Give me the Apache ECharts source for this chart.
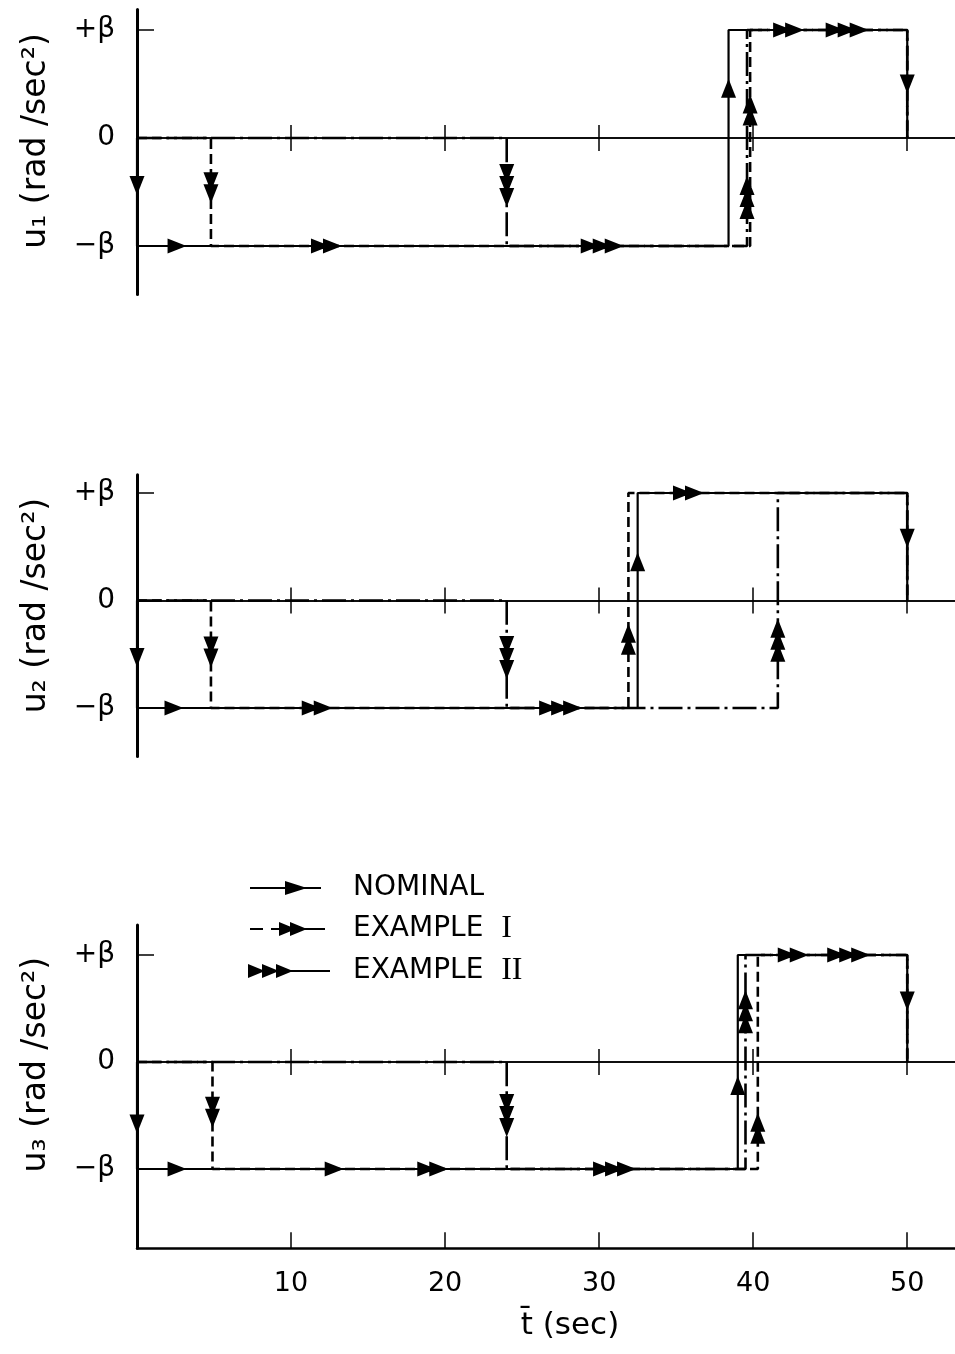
<!DOCTYPE html>
<html>
<head>
<meta charset="utf-8">
<script src="https://cdn.jsdelivr.net/npm/echarts@6/dist/echarts.min.js"></script>
<style>html,body{margin:0;padding:0;background:#fff}#c{width:955px;height:1354px}</style>
</head>
<body>
<div id="c"></div>
<script>
// ---------------- DATA ----------------
const timeTicks = [10, 20, 30, 40, 50];           // t (sec)
const levelTicks = [-1, 0, 1];                     // in units of beta
const levelLabels = { '-1': '\u2212\u03b2', '0': '0', '1': '+\u03b2' };
const seriesNames = ['NOMINAL', 'EXAMPLE I', 'EXAMPLE II'];
const panelTitles = ['u\u2081 (rad /sec\u00b2)', 'u\u2082 (rad /sec\u00b2)', 'u\u2083 (rad /sec\u00b2)'];

// control histories: [t (sec), u / beta]
const u1Nominal   = [[0,0],[0,-1],[38.4,-1],[38.4,1],[50,1],[50,0]];
const u1ExampleI  = [[0,0],[4.8,0],[4.8,-1],[39.8,-1],[39.8,1],[50,1],[50,0]];
const u1ExampleII = [[0,0],[24,0],[24,-1],[39.6,-1],[39.6,1],[50,1],[50,0]];

const u2Nominal   = [[0,0],[0,-1],[32.5,-1],[32.5,1],[50,1],[50,0]];
const u2ExampleI  = [[0,0],[4.8,0],[4.8,-1],[31.9,-1],[31.9,1],[50,1],[50,0]];
const u2ExampleII = [[0,0],[24,0],[24,-1],[41.6,-1],[41.6,1],[50,1],[50,0]];

const u3Nominal   = [[0,0],[0,-1],[39.0,-1],[39.0,1],[50,1],[50,0]];
const u3ExampleI  = [[0,0],[4.9,0],[4.9,-1],[40.3,-1],[40.3,1],[50,1],[50,0]];
const u3ExampleII = [[0,0],[24,0],[24,-1],[39.5,-1],[39.5,1],[50,1],[50,0]];

// direction arrows along each history: [t, u / beta, direction]
const u1ArrowsNominal = [[0,-0.44,'down'],[2.6,-1,'right'],[38.4,0.46,'up'],[50,0.5,'down']];
const u1ArrowsI       = [[4.8,-0.46,'down'],[12.3,-1,'right'],[39.8,0.26,'up'],[42.3,1,'right']];
const u1ArrowsII      = [[24,-0.44,'down'],[30.2,-1,'right'],[39.6,-0.55,'up'],[46.1,1,'right']];

const u2ArrowsNominal = [[0,-0.53,'down'],[2.4,-1,'right'],[32.5,0.36,'up'],[50,0.58,'down']];
const u2ArrowsI       = [[4.8,-0.48,'down'],[11.7,-1,'right'],[31.9,-0.36,'up'],[35.8,1,'right']];
const u2ArrowsII      = [[24,-0.53,'down'],[27.5,-1,'right'],[41.6,-0.37,'up']];

const u3ArrowsNominal = [[0,-0.58,'down'],[2.6,-1,'right'],[12.8,-1,'right'],[39.0,-0.22,'up'],[50,0.57,'down']];
const u3ArrowsI       = [[4.9,-0.47,'down'],[19.2,-1,'right'],[40.3,-0.62,'up'],[42.6,1,'right']];
const u3ArrowsII      = [[24,-0.5,'down'],[31,-1,'right'],[39.5,0.47,'up'],[46.2,1,'right']];

// ---------------- LAYOUT / STYLE ----------------
const FONT = 'DejaVu Sans';
const INK = '#000';
const GRID_LEFT = 137, GRID_WIDTH = 818, T_MAX = 53.1;
const layout = [
  { zero: 138,   beta: 108,   ymax: 1.19, ymin: -1.45, namePad: 22 },
  { zero: 600.5, beta: 107.5, ymax: 1.17, ymin: -1.45, namePad: 20 },
  { zero: 1062,  beta: 107,   ymax: 1.28, ymin: -1.74, namePad: 44 }
];
const panels = [
  { lines: [u1Nominal, u1ExampleI, u1ExampleII], arrows: [u1ArrowsNominal, u1ArrowsI, u1ArrowsII] },
  { lines: [u2Nominal, u2ExampleI, u2ExampleII], arrows: [u2ArrowsNominal, u2ArrowsI, u2ArrowsII] },
  { lines: [u3Nominal, u3ExampleI, u3ExampleII], arrows: [u3ArrowsNominal, u3ArrowsI, u3ArrowsII] }
];
const lineStyles = [
  { type: 'solid', width: 2.2 },
  { type: [10, 5], width: 2.6 },
  { type: [24, 5, 3, 5], width: 2.6 }
];
const ARROW = [
  null,
  { path: 'path://M0,0L7.5,19L-7.5,19Z', size: [15, 19] },
  { path: 'path://M0,0L7.5,19L-7.5,19ZM0,12L7.5,31L-7.5,31Z', size: [15, 31] },
  { path: 'path://M0,0L7.5,19L-7.5,19ZM0,12L7.5,31L-7.5,31ZM0,24L7.5,43L-7.5,43Z', size: [15, 43] }
];
const ROT = { up: 0, down: 180, right: -90 };
const legendIcons = [
  'path://M0,7L0.01,7L0,7.01ZM2,6L73,6L73,8L2,8ZM37,0L59,7L37,14ZM99.99,7L100,7L99.99,7.01Z',
  'path://M0,7L0.01,7L0,7.01ZM2,6L15,6L15,8L2,8ZM23,6L31,6L31,8L23,8ZM31,0L48,7L31,14ZM42,0L59,7L42,14ZM50,6L77,6L77,8L50,8ZM99.99,7L100,7L99.99,7.01Z',
  'path://M0,6L82,6L82,8L0,8ZM0,0L17,7L0,14ZM14,0L31,7L14,14ZM28,0L45,7L28,14ZM99.99,7L100,7L99.99,7.01Z'
];

const grids = [], xAxes = [], yAxes = [], series = [];
layout.forEach((L, p) => {
  grids.push({
    left: GRID_LEFT, width: GRID_WIDTH,
    top: L.zero - L.ymax * L.beta,
    height: (L.ymax - L.ymin) * L.beta,
    containLabel: false, outerBoundsMode: 'none'
  });
  const mainY = yAxes.length;
  yAxes.push({
    type: 'value', gridIndex: p, min: L.ymin, max: L.ymax, position: 'left',
    name: panelTitles[p], nameLocation: 'middle', nameRotate: 90, nameGap: 84,
    nameTextStyle: { fontFamily: FONT, fontSize: 33, color: INK, padding: [0, 0, 0, L.namePad] },
    axisLine: { show: true, onZero: false, lineStyle: { color: INK, width: 3 } },
    axisTick: { show: true, inside: true, length: 17, customValues: levelTicks, lineStyle: { color: INK, width: 1.5 } },
    axisLabel: {
      show: true, customValues: levelTicks, margin: 22, fontFamily: FONT, fontSize: 28, color: INK,
      formatter: v => levelLabels[String(Math.round(v))]
    },
    splitLine: { show: false }
  });
  const helperY = yAxes.length;
  yAxes.push({
    type: 'value', gridIndex: p, min: L.ymin, max: L.ymax, position: 'right', show: false,
    axisLine: { onZero: false }, splitLine: { show: false }
  });
  const firstX = xAxes.length;
  // zero line, ticks downward
  xAxes.push({
    type: 'value', gridIndex: p, min: 0, max: T_MAX, position: 'bottom',
    axisLine: { onZero: true, onZeroAxisIndex: mainY, lineStyle: { color: INK, width: 1.5 } },
    axisTick: { show: true, inside: false, length: 13, customValues: timeTicks, lineStyle: { color: INK, width: 1.5 } },
    axisLabel: { show: false }, splitLine: { show: false }
  });
  // zero line, ticks upward
  xAxes.push({
    type: 'value', gridIndex: p, min: 0, max: T_MAX, position: 'top',
    axisLine: { onZero: true, onZeroAxisIndex: helperY, lineStyle: { color: INK, width: 1.5 } },
    axisTick: { show: true, inside: false, length: 13, customValues: timeTicks, lineStyle: { color: INK, width: 1.5 } },
    axisLabel: { show: false }, splitLine: { show: false }
  });
  if (p === 2) {
    xAxes.push({
      type: 'value', gridIndex: p, min: 0, max: T_MAX, position: 'bottom',
      name: 't\u0304 (sec)', nameLocation: 'middle', nameGap: 62,
      nameTextStyle: { fontFamily: FONT, fontSize: 31, color: INK, padding: [0, 0, 0, 48] },
      axisLine: { onZero: false, lineStyle: { color: INK, width: 2.5 } },
      axisTick: { show: true, inside: true, length: 16, customValues: timeTicks, lineStyle: { color: INK, width: 1.5 } },
      axisLabel: { show: true, customValues: timeTicks, margin: 22, fontFamily: FONT, fontSize: 27, color: INK },
      splitLine: { show: false }
    });
  }
  const P = panels[p];
  P.lines.forEach((d, k) => {
    series.push({
      name: seriesNames[k], type: 'line', xAxisIndex: firstX, yAxisIndex: mainY,
      data: d, symbol: 'none', silent: true, z: 3,
      color: INK, itemStyle: { color: INK },
      lineStyle: Object.assign({ color: INK, cap: 'butt' }, lineStyles[k])
    });
  });
  P.arrows.forEach((arr, k) => {
    const A = ARROW[k + 1];
    series.push({
      name: seriesNames[k] + ' arrows ' + (p + 1), type: 'scatter', xAxisIndex: firstX, yAxisIndex: mainY,
      silent: true, z: 4, itemStyle: { color: INK, opacity: 1 },
      data: arr.map(a => ({ value: [a[0], a[1]], symbol: A.path, symbolSize: A.size, symbolRotate: ROT[a[2]] }))
    });
  });
});

const chart = echarts.init(document.getElementById('c'), null, { renderer: 'canvas' });
chart.setOption({
  animation: false,
  backgroundColor: '#fff',
  grid: grids, xAxis: xAxes, yAxis: yAxes, series: series,
  legend: {
    show: true, orient: 'vertical', left: 243, top: 868,
    itemWidth: 100, itemHeight: 14, itemGap: 10,
    selectedMode: false,
    data: seriesNames.map((n, k) => ({ name: n, icon: legendIcons[k] })),
    itemStyle: { color: INK, borderWidth: 0, opacity: 1 },
    formatter: n => n === 'NOMINAL' ? 'NOMINAL' : (n === 'EXAMPLE I' ? 'EXAMPLE  {r|I}' : 'EXAMPLE  {r|II}'),
    textStyle: {
      fontFamily: FONT, fontSize: 28, color: INK, lineHeight: 30,
      rich: { r: { fontFamily: 'Liberation Serif', fontSize: 32, color: INK, lineHeight: 30 } }
    }
  }
});
</script>
</body>
</html>
